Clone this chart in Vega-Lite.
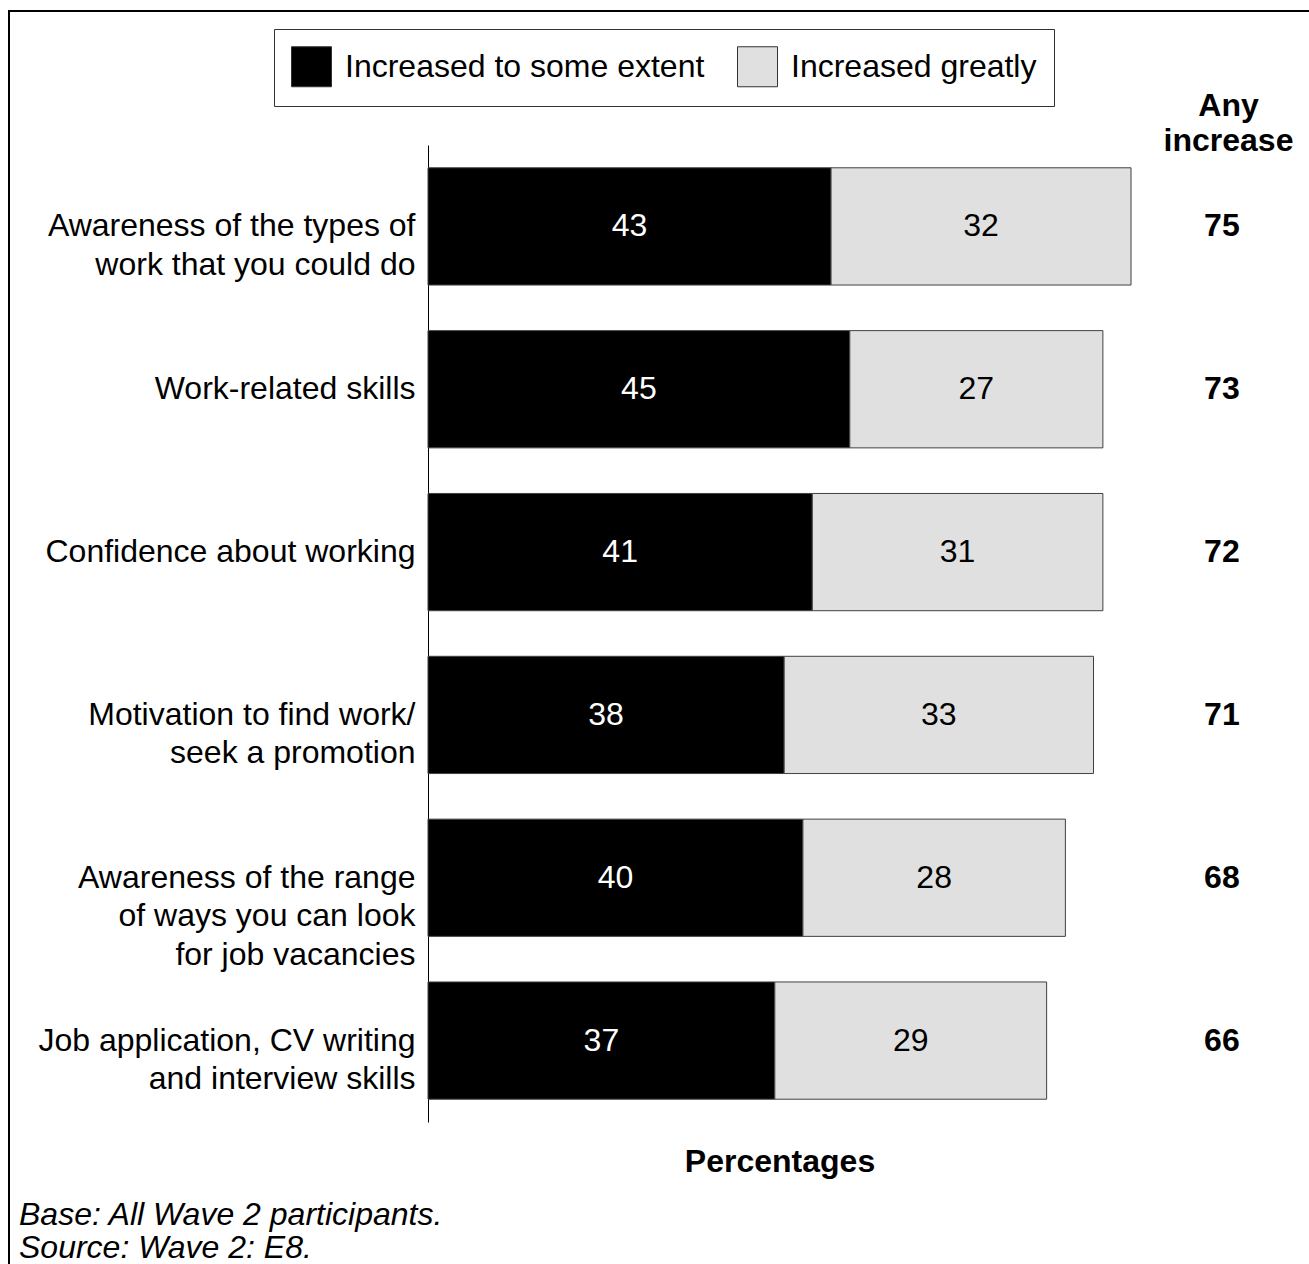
{
  "$schema": "https://vega.github.io/schema/vega-lite/v6.json",
  "autosize": {"type": "none"},
  "width": 1310,
  "height": 1263,
  "padding": {"left": 9, "top": 11, "right": -10, "bottom": -10},
  "background": "white",
  "title": {
    "text": ["Base: All Wave 2 participants.", "Source: Wave 2: E8."],
    "orient": "bottom",
    "anchor": "start",
    "frame": "group",
    "offset": -74,
    "dx": 10,
    "fontSize": 32,
    "fontStyle": "italic",
    "fontWeight": "normal",
    "lineHeight": 33,
    "color": "black"
  },
  "datasets": {
    "segments": [
      {"item": "Awareness of the types of\nwork that you could do", "series": "Increased to some extent", "rank": 1, "value": 43},
      {"item": "Awareness of the types of\nwork that you could do", "series": "Increased greatly", "rank": 2, "value": 32},
      {"item": "Work-related skills", "series": "Increased to some extent", "rank": 1, "value": 45},
      {"item": "Work-related skills", "series": "Increased greatly", "rank": 2, "value": 27},
      {"item": "Confidence about working", "series": "Increased to some extent", "rank": 1, "value": 41},
      {"item": "Confidence about working", "series": "Increased greatly", "rank": 2, "value": 31},
      {"item": "Motivation to find work/\nseek a promotion", "series": "Increased to some extent", "rank": 1, "value": 38},
      {"item": "Motivation to find work/\nseek a promotion", "series": "Increased greatly", "rank": 2, "value": 33},
      {"item": "Awareness of the range\nof ways you can look\nfor job vacancies", "series": "Increased to some extent", "rank": 1, "value": 40},
      {"item": "Awareness of the range\nof ways you can look\nfor job vacancies", "series": "Increased greatly", "rank": 2, "value": 28},
      {"item": "Job application, CV writing\nand interview skills", "series": "Increased to some extent", "rank": 1, "value": 37},
      {"item": "Job application, CV writing\nand interview skills", "series": "Increased greatly", "rank": 2, "value": 29}
    ],
    "totals": [
      {"item": "Awareness of the types of\nwork that you could do", "total": 75},
      {"item": "Work-related skills", "total": 73},
      {"item": "Confidence about working", "total": 72},
      {"item": "Motivation to find work/\nseek a promotion", "total": 71},
      {"item": "Awareness of the range\nof ways you can look\nfor job vacancies", "total": 68},
      {"item": "Job application, CV writing\nand interview skills", "total": 66}
    ]
  },
  "layer": [
    {
      "data": {"name": "segments"},
      "mark": {"type": "bar", "stroke": "#404040", "strokeWidth": 1},
      "encoding": {
        "y": {
          "field": "item",
          "type": "nominal",
          "sort": null,
          "scale": {"range": [134, 1111], "paddingInner": 0.28, "paddingOuter": 0.14},
          "axis": {
            "orient": "left",
            "offset": -419,
            "title": null,
            "ticks": false,
            "grid": false,
            "domainColor": "black",
            "domainWidth": 1,
            "labelExpr": "split(datum.label, '\\n')",
            "labelFontSize": 32,
            "labelLineHeight": 38.5,
            "labelPadding": 13,
            "labelLimit": 0,
            "labelAlign": "right",
            "labelBaseline": "middle",
            "labelColor": "black",
            "labelOverlap": false
          }
        },
        "x": {
          "field": "value",
          "type": "quantitative",
          "stack": "zero",
          "scale": {"domain": [0, 75], "range": [419, 1122], "nice": false, "zero": true},
          "axis": {
            "orient": "bottom",
            "offset": -152,
            "title": "Percentages",
            "titleFontSize": 32,
            "titleFontWeight": "bold",
            "titleColor": "black",
            "titlePadding": 24,
            "labels": false,
            "ticks": false,
            "domain": false,
            "grid": false
          }
        },
        "order": {"field": "rank", "type": "quantitative"},
        "color": {
          "field": "series",
          "type": "nominal",
          "scale": {
            "domain": ["Increased to some extent", "Increased greatly"],
            "range": ["#000000", "#e0e0e0"]
          },
          "legend": {
            "title": null,
            "orient": "none",
            "legendX": 265,
            "legendY": 18,
            "direction": "horizontal",
            "columns": 2,
            "symbolType": "square",
            "symbolSize": 1600,
            "symbolStrokeColor": "#333333",
            "symbolStrokeWidth": 1,
            "labelFontSize": 32,
            "labelColor": "black",
            "labelOffset": 13,
            "labelLimit": 0,
            "columnPadding": 30,
            "padding": 17,
            "strokeColor": "#333333",
            "fillColor": "white"
          }
        }
      }
    },
    {
      "data": {"name": "segments"},
      "transform": [
        {"stack": "value", "groupby": ["item"], "sort": [{"field": "rank", "order": "ascending"}], "as": ["v0", "v1"]},
        {"fold": ["v0", "v1"], "as": ["edge", "pos"]},
        {"aggregate": [{"op": "mean", "field": "pos", "as": "mid"}], "groupby": ["item", "series", "value"]}
      ],
      "mark": {"type": "text", "fontSize": 32, "align": "center", "baseline": "middle"},
      "encoding": {
        "y": {"field": "item", "type": "nominal", "sort": null, "axis": null},
        "x": {"field": "mid", "type": "quantitative", "scale": {"domain": [0, 75], "range": [419, 1122], "nice": false, "zero": true}},
        "text": {"field": "value", "type": "quantitative"},
        "color": {
          "condition": {"test": "datum.series === 'Increased to some extent'", "value": "white"},
          "value": "black"
        }
      }
    },
    {
      "data": {"name": "totals"},
      "mark": {"type": "text", "fontSize": 32, "fontWeight": "bold", "align": "center", "baseline": "middle", "color": "black"},
      "encoding": {
        "y": {
          "field": "item",
          "type": "nominal",
          "sort": null,
          "axis": {
            "orient": "right",
            "offset": -91,
            "title": ["Any", "increase"],
            "titleAngle": 0,
            "titleFontSize": 32,
            "titleFontWeight": "bold",
            "titleColor": "black",
            "titleAlign": "center",
            "titleBaseline": "middle",
            "titleLineHeight": 35,
            "titleX": 0,
            "titleY": 94,
            "labels": false,
            "ticks": false,
            "domain": false,
            "grid": false
          }
        },
        "x": {"datum": 84.7, "type": "quantitative", "scale": {"domain": [0, 75], "range": [419, 1122], "nice": false, "zero": true}},
        "text": {"field": "total", "type": "quantitative"}
      }
    }
  ],
  "resolve": {"axis": {"y": "independent"}},
  "config": {
    "font": "Liberation Sans",
    "view": {"stroke": "black", "strokeWidth": 2},
    "text": {"font": "Liberation Sans"}
  }
}
